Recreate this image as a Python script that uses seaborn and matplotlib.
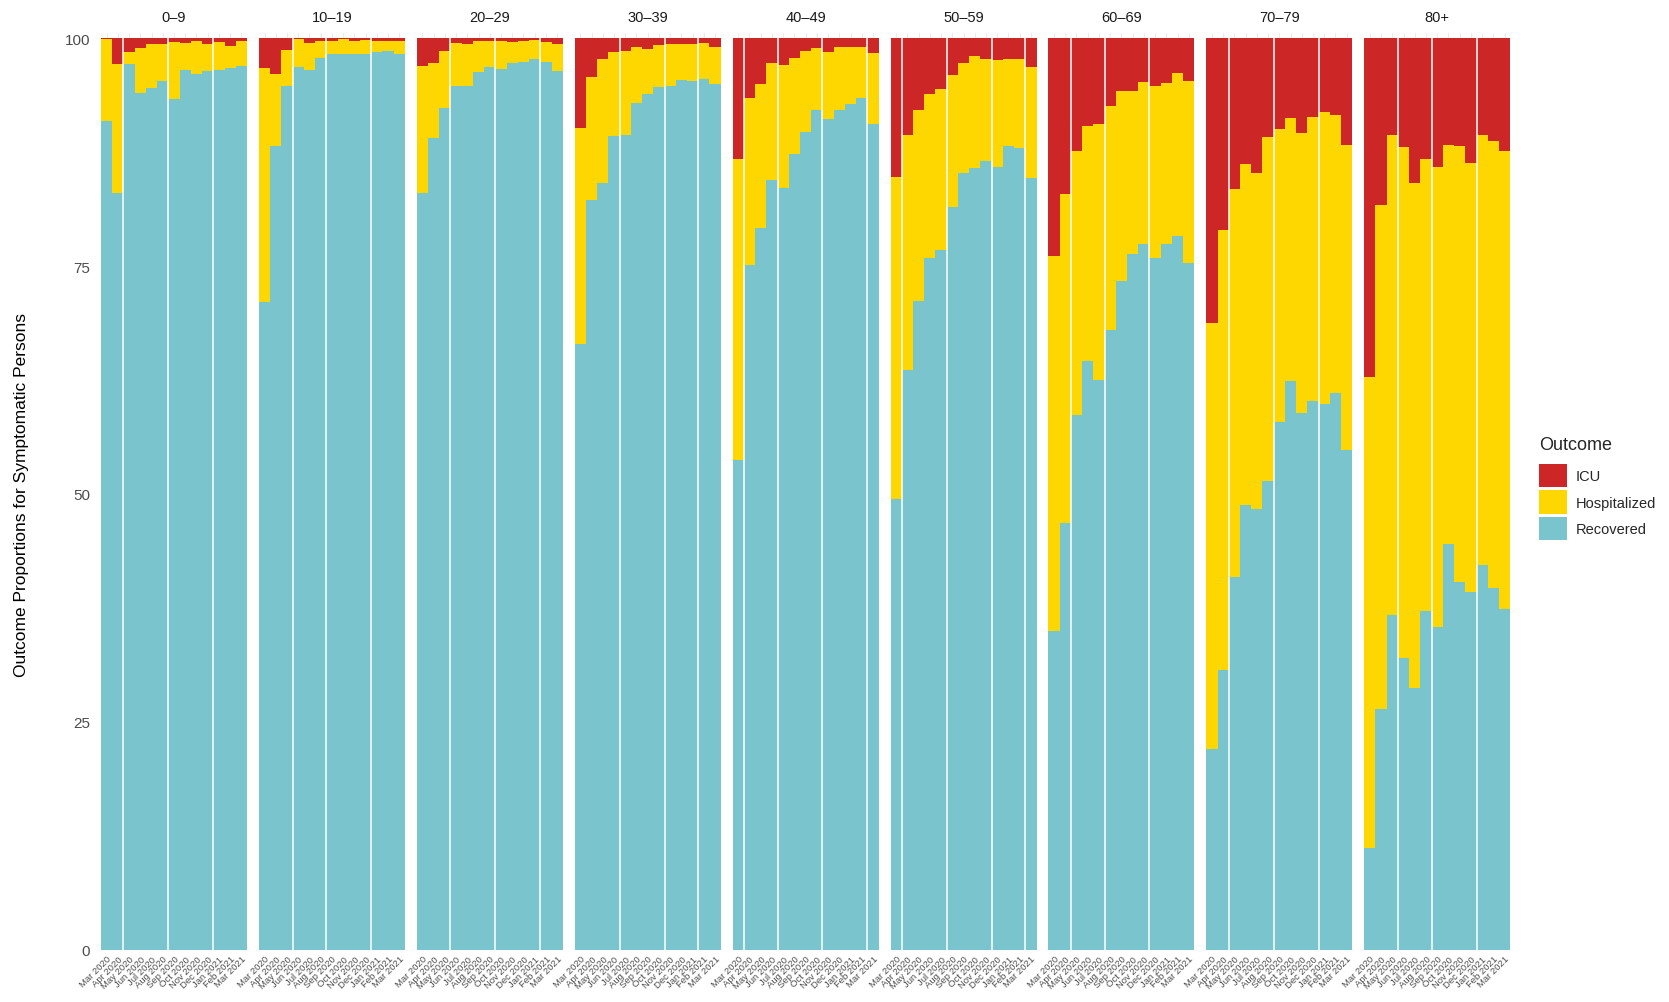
import numpy as np
import pandas as pd
import matplotlib
matplotlib.use("Agg")
import matplotlib.pyplot as plt
from matplotlib.patches import Patch
import seaborn as sns

# ------------------------------------------------------------------ #
# Data (percent of symptomatic persons)
# ------------------------------------------------------------------ #
months = ["Mar 2020", "Apr 2020", "May 2020", "Jun 2020", "Jul 2020",
          "Aug 2020", "Sep 2020", "Oct 2020", "Nov 2020", "Dec 2020",
          "Jan 2021", "Feb 2021", "Mar 2021"]
age_groups = ["0\u20139", "10\u201319", "20\u201329", "30\u201339", "40\u201349",
              "50\u201359", "60\u201369", "70\u201379", "80+"]
outcomes = ["ICU", "Hospitalized", "Recovered"]

recovered = [
    [90.9, 83.0, 97.1, 94.0, 94.5, 95.3, 93.3, 96.5, 96.1, 96.4, 96.5, 96.7, 96.9],
    [71.0, 88.2, 94.7, 96.8, 96.5, 97.8, 98.2, 98.2, 98.2, 98.2, 98.5, 98.6, 98.2],
    [83.0, 89.0, 92.3, 94.7, 94.7, 96.3, 96.8, 96.6, 97.3, 97.4, 97.7, 97.4, 96.4],
    [66.4, 82.2, 84.1, 89.3, 89.4, 92.9, 93.9, 94.6, 94.7, 95.4, 95.3, 95.5, 95.0],
    [53.7, 75.1, 79.2, 84.4, 83.6, 87.3, 89.7, 92.1, 91.1, 92.1, 92.8, 93.4, 90.6],
    [49.5, 63.6, 71.2, 75.9, 76.7, 81.5, 85.2, 85.7, 86.5, 85.9, 88.2, 87.9, 84.6],
    [35.0, 46.8, 58.7, 64.6, 62.5, 68.0, 73.4, 76.3, 77.4, 75.9, 77.4, 78.3, 75.3],
    [22.0, 30.7, 40.9, 48.8, 48.4, 51.4, 57.9, 62.4, 58.9, 60.2, 59.9, 61.1, 54.8],
    [11.2, 26.4, 36.7, 32.0, 28.7, 37.2, 35.4, 44.5, 40.3, 39.2, 42.2, 39.7, 37.4],
]
hospitalized = [
    [9.0, 14.2, 1.4, 4.9, 4.8, 4.0, 6.3, 3.0, 3.6, 2.9, 3.1, 2.4, 2.8],
    [25.7, 7.9, 4.0, 3.1, 3.0, 1.9, 1.5, 1.7, 1.5, 1.6, 1.2, 1.1, 1.5],
    [13.9, 8.3, 6.3, 4.8, 4.6, 3.4, 2.9, 3.1, 2.3, 2.3, 2.1, 2.2, 2.9],
    [23.7, 13.5, 13.6, 9.2, 9.2, 6.1, 4.9, 4.6, 4.6, 3.9, 4.0, 4.0, 4.0],
    [33.0, 18.3, 15.8, 12.9, 13.4, 10.5, 8.9, 6.8, 7.4, 6.9, 6.2, 5.6, 7.8],
    [35.3, 25.8, 20.9, 18.0, 17.7, 14.4, 12.1, 12.3, 11.2, 11.7, 9.5, 9.8, 12.2],
    [41.1, 36.1, 28.9, 25.8, 28.1, 24.5, 20.8, 17.9, 17.8, 18.8, 17.7, 17.9, 20.0],
    [46.7, 48.2, 42.5, 37.4, 36.8, 37.7, 32.1, 28.8, 30.7, 31.1, 32.0, 30.5, 33.5],
    [51.6, 55.3, 52.7, 56.1, 55.4, 49.5, 50.5, 43.8, 47.9, 47.1, 47.2, 49.0, 50.2],
]
icu = [
    [0.1, 2.8, 1.5, 1.1, 0.7, 0.7, 0.4, 0.5, 0.3, 0.7, 0.4, 0.9, 0.3],
    [3.3, 3.9, 1.3, 0.1, 0.5, 0.3, 0.3, 0.1, 0.3, 0.2, 0.3, 0.3, 0.3],
    [3.1, 2.7, 1.4, 0.5, 0.7, 0.3, 0.3, 0.3, 0.4, 0.3, 0.2, 0.4, 0.7],
    [9.9, 4.3, 2.3, 1.5, 1.4, 1.0, 1.2, 0.8, 0.7, 0.7, 0.7, 0.5, 1.0],
    [13.3, 6.6, 5.0, 2.7, 3.0, 2.2, 1.4, 1.1, 1.5, 1.0, 1.0, 1.0, 1.6],
    [15.2, 10.6, 7.9, 6.1, 5.6, 4.1, 2.7, 2.0, 2.3, 2.4, 2.3, 2.3, 3.2],
    [23.9, 17.1, 12.4, 9.6, 9.4, 7.5, 5.8, 5.8, 4.8, 5.3, 4.9, 3.8, 4.7],
    [31.3, 21.1, 16.6, 13.8, 14.8, 10.9, 10.0, 8.8, 10.4, 8.7, 8.1, 8.4, 11.7],
    [37.2, 18.3, 10.6, 11.9, 15.9, 13.3, 14.1, 11.7, 11.8, 13.7, 10.6, 11.3, 12.4],
]

# ------------------------------------------------------------------ #
# Style
# ------------------------------------------------------------------ #
palette = {"ICU": "#CD2626", "Hospitalized": "#FFD700", "Recovered": "#7AC5CD"}
# thin white seams between bars seen in the reference (bar counts)
seams = [[2, 6, 10], [3, 6, 10], [3, 7, 11], [4, 8, 11], [1, 4, 8, 12],
         [1, 5, 9, 12], [2, 5, 9], [2, 6, 10], [3, 6, 10]]

sns.set_theme(style="white")
plt.rcParams["font.family"] = ["Liberation Sans", "DejaVu Sans"]

rows = []
for g, age in enumerate(age_groups):
    for m in range(len(months)):
        rows.append((age, m, "Recovered", recovered[g][m]))
        rows.append((age, m, "Hospitalized", hospitalized[g][m]))
        rows.append((age, m, "ICU", icu[g][m]))
df = pd.DataFrame(rows, columns=["age", "month", "Outcome", "pct"])

W, H = 1669, 1003
fig = plt.figure(figsize=(W / 100, H / 100), dpi=100)

y_top = 100.5
pan_w, pitch = 146, 157.9
bot_px, zero_to_100 = 951, 912

for g, age in enumerate(age_groups):
    left = 101 + pitch * g
    h_px = zero_to_100 * y_top / 100
    ax = fig.add_axes([left / W, (H - bot_px) / H, pan_w / W, h_px / H])
    ax.set_axisbelow(True)
    sub = df[df["age"] == age]
    sns.histplot(
        data=sub, x="month", weights="pct", hue="Outcome",
        hue_order=outcomes, palette=palette, multiple="stack",
        discrete=True, shrink=1, linewidth=0, alpha=1,
        legend=False, ax=ax,
    )
    for s in seams[g]:
        ax.axvline(s - 0.5, color="white", lw=1.1, zorder=5)

    ax.set_xlim(-0.5, len(months) - 0.5)
    ax.set_ylim(0, y_top)
    ax.set_yticks([0, 25, 50, 75, 100])
    ax.set_yticks([12.5, 37.5, 62.5, 87.5], minor=True)
    ax.set_xticks(range(len(months)))
    ax.set_xticklabels(months, rotation=45, ha="right",
                       rotation_mode="anchor", fontsize=6.8, color="#4D4D4D")
    ax.grid(True, which="both", color="#EBEBEB", lw=0.8)
    ax.tick_params(length=0, pad=3)
    ax.tick_params(axis="y", labelsize=11, labelcolor="#4D4D4D", pad=8)
    if g > 0:
        ax.set_yticklabels([])
    ax.set_xlabel("")
    ax.set_ylabel("")
    for sp in ax.spines.values():
        sp.set_visible(False)
    ax.set_title(age, fontsize=10.5, color="#1A1A1A", pad=9)

fig.text(22 / W, (H - 495) / H, "Outcome Proportions for Symptomatic Persons",
         rotation=90, ha="center", va="center", fontsize=12.5, color="black")

handles = [Patch(facecolor=palette[o], edgecolor="none", label=o) for o in outcomes]
leg = fig.legend(
    handles=handles, title="Outcome", loc="upper left",
    bbox_to_anchor=(1533 / W, (H - 431) / H), frameon=False,
    fontsize=10.5, title_fontsize=13, handlelength=1.9, handleheight=2.1,
    handletextpad=0.65, labelspacing=0.2, borderaxespad=0,
)
leg._legend_box.align = "left"
leg._legend_box.sep = 8

plt.savefig("out.png", dpi=100)
plt.close()
